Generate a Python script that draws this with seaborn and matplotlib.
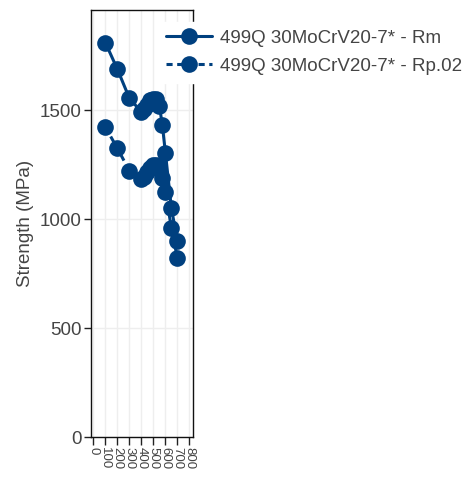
import numpy as np
import pandas as pd
import matplotlib
matplotlib.use("Agg")
import matplotlib.pyplot as plt
import seaborn as sns

# Data
temps_rm = [100, 200, 300, 400, 425, 450, 475, 500, 525, 550, 575, 600, 650, 700]
rm_vals = [1810, 1688, 1555, 1492, 1505, 1525, 1545, 1553, 1550, 1520, 1430, 1305, 1050, 900]
temps_rp = [100, 200, 300, 400, 425, 450, 475, 500, 525, 550, 575, 600, 650, 700]
rp_vals = [1422, 1325, 1222, 1184, 1195, 1215, 1235, 1248, 1250, 1240, 1190, 1125, 960, 820]
series_names = ["499Q 30MoCrV20-7* - Rm", "499Q 30MoCrV20-7* - Rp.02"]
x_ticks = [0, 100, 200, 300, 400, 500, 600, 700, 800]
y_ticks = [0, 500, 1000, 1500]

df = pd.concat([
    pd.DataFrame({"T": temps_rm, "S": rm_vals, "series": series_names[0]}),
    pd.DataFrame({"T": temps_rp, "S": rp_vals, "series": series_names[1]}),
], ignore_index=True)

sns.set_theme(style="white")
plt.rcParams["font.family"] = ["Liberation Sans", "DejaVu Sans"]

color = "#00407f"
fig = plt.figure(figsize=(4.67, 4.87), dpi=100)
ax = fig.add_axes([91 / 467, 50 / 487, 102 / 467, 427 / 487])

sns.lineplot(data=df, x="T", y="S", hue="series", style="series",
             palette=[color, color], markers=["o", "o"],
             dashes=["", (2, 1.5)], markersize=12, linewidth=2.2,
             markeredgewidth=0, ax=ax, legend=True)

ax.set_xlim(-20, 830)
ax.set_ylim(0, 1960)
ax.set_xticks(x_ticks)
ax.set_yticks(y_ticks)
ax.set_xticklabels([str(v) for v in x_ticks], rotation=-90, fontsize=9.5,
                   color="#444444")
ax.tick_params(axis="y", labelsize=13.5, labelcolor="#444444", length=5, width=1,
               color="#222222", direction="out", left=True, pad=2)
ax.tick_params(axis="x", length=6, width=1, color="#222222", direction="out",
               bottom=True, pad=1.5)
ax.grid(True, color="#eeeeee", linewidth=1)
ax.set_axisbelow(True)
for sp in ax.spines.values():
    sp.set_visible(True)
    sp.set_color("#111111")
    sp.set_linewidth(1)
ax.set_xlabel("")
ax.set_ylabel("Strength (MPa)", fontsize=13.5, color="#444444", labelpad=4)

handles, labels = ax.get_legend_handles_labels()
ax.get_legend().remove()
leg = fig.legend(handles, labels, loc="upper left",
                 bbox_to_anchor=(158 / 467, 1 - 22 / 487), frameon=True,
                 fontsize=13.5, handlelength=2.5, handletextpad=0.4,
                 labelspacing=0.6, borderpad=0.4, borderaxespad=0)
leg.get_frame().set_facecolor("white")
leg.get_frame().set_edgecolor("white")
leg.get_frame().set_alpha(1)
leg.set_zorder(10)
for t in leg.get_texts():
    t.set_color("#444444")

fig.savefig("out.png", dpi=100)
